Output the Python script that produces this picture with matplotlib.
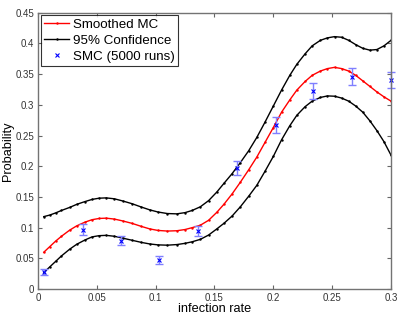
import matplotlib
matplotlib.use('Agg')
import matplotlib.pyplot as plt

plt.rcParams['font.family'] = ['Liberation Sans', 'DejaVu Sans']

# curve sample points
curve_x = [0.005, 0.010, 0.015, 0.020, 0.027, 0.033, 0.040, 0.046, 0.052, 0.058,
           0.065, 0.072, 0.080, 0.088, 0.095, 0.102, 0.110, 0.118, 0.125, 0.131,
           0.138, 0.145, 0.152, 0.158, 0.165, 0.172, 0.179, 0.186, 0.193, 0.200,
           0.207, 0.214, 0.220, 0.227, 0.233, 0.240, 0.246, 0.252, 0.258, 0.264,
           0.270, 0.276, 0.282, 0.288, 0.294, 0.300]
smoothed = [0.060, 0.069, 0.078, 0.086, 0.096, 0.103, 0.109, 0.113, 0.115, 0.1155,
            0.114, 0.111, 0.107, 0.102, 0.098, 0.0955, 0.0945, 0.095, 0.097, 0.100,
            0.104, 0.112, 0.125, 0.138, 0.155, 0.174, 0.194, 0.215, 0.239, 0.263,
            0.288, 0.308, 0.324, 0.338, 0.348, 0.355, 0.359, 0.361, 0.359, 0.355,
            0.348, 0.339, 0.330, 0.321, 0.313, 0.306]
upper = [0.118, 0.1205, 0.124, 0.128, 0.133, 0.138, 0.1425, 0.146, 0.148, 0.1485,
         0.147, 0.1435, 0.139, 0.1335, 0.129, 0.1255, 0.123, 0.1225, 0.1245, 0.128,
         0.134, 0.144, 0.158, 0.172, 0.188, 0.206, 0.225, 0.247, 0.272, 0.298,
         0.324, 0.348, 0.366, 0.383, 0.396, 0.405, 0.409, 0.411, 0.410, 0.405,
         0.398, 0.392, 0.389, 0.390, 0.396, 0.405]
lower = [0.027, 0.036, 0.045, 0.054, 0.065, 0.073, 0.080, 0.085, 0.087, 0.0875,
         0.086, 0.083, 0.0795, 0.076, 0.0735, 0.072, 0.0715, 0.0725, 0.0745, 0.077,
         0.081, 0.088, 0.098, 0.107, 0.119, 0.134, 0.151, 0.169, 0.192, 0.216,
         0.243, 0.266, 0.283, 0.297, 0.306, 0.312, 0.3145, 0.314, 0.311, 0.306,
         0.298, 0.288, 0.274, 0.258, 0.240, 0.218]

# SMC runs
smc_x = [0.005, 0.038, 0.071, 0.103, 0.136, 0.169, 0.202, 0.234, 0.267, 0.300]
smc_y = [0.028, 0.097, 0.079, 0.048, 0.094, 0.197, 0.267, 0.323, 0.346, 0.340]
smc_err = [0.0045, 0.0085, 0.008, 0.0065, 0.008, 0.012, 0.0128, 0.0133, 0.0136, 0.013]

xticks = [0, 0.05, 0.1, 0.15, 0.2, 0.25, 0.3]
xticklabels = ['0', '0.05', '0.1', '0.15', '0.2', '0.25', '0.3']
yticks = [0, 0.05, 0.1, 0.15, 0.2, 0.25, 0.3, 0.35, 0.4, 0.45]
yticklabels = ['0', '0.05', '0.1', '0.15', '0.2', '0.25', '0.3', '0.35', '0.4', '0.45']

fig = plt.figure(figsize=(3.99, 3.17), dpi=100)
ax = fig.add_axes([0.095, 0.088, 0.885, 0.872])

ax.plot(curve_x, smoothed, '.-', color='red', lw=1.0, ms=1.5, label='Smoothed MC')
ax.plot(curve_x, upper, '.-', color='black', lw=1.0, ms=1.5, label='95% Confidence')
ax.plot(curve_x, lower, '.-', color='black', lw=1.0, ms=1.5)
ax.errorbar(smc_x, smc_y, yerr=smc_err, fmt='none', ecolor='#7f7fff',
            elinewidth=1.0, capsize=3, capthick=1.0, clip_on=False)
ax.plot(smc_x, smc_y, 'x', color='blue', ms=3, mew=0.8, label='SMC (5000 runs)',
        clip_on=False)

ax.set_xlim(0, 0.3)
ax.set_ylim(0, 0.45)
ax.set_xticks(xticks)
ax.set_xticklabels(xticklabels)
ax.set_yticks(yticks)
ax.set_yticklabels(yticklabels)
ax.tick_params(direction='in', top=True, right=True, labelsize=7, length=3,
               color='0.4', labelcolor='0.2', pad=2.5)
for s in ax.spines.values():
    s.set_color('0.45')
    s.set_linewidth(1.0)

ax.set_xlabel('infection rate', fontsize=9.2, labelpad=0)
ax.set_ylabel('Probability', fontsize=9.2, labelpad=1)

leg = ax.legend(loc='upper left', fontsize=9.6, frameon=True, fancybox=False,
                borderaxespad=0.2, handlelength=1.9, handletextpad=0.3,
                borderpad=0.25, labelspacing=0.28)
leg.get_frame().set_edgecolor('black')
leg.get_frame().set_linewidth(0.8)

fig.savefig('out.png', dpi=100)
